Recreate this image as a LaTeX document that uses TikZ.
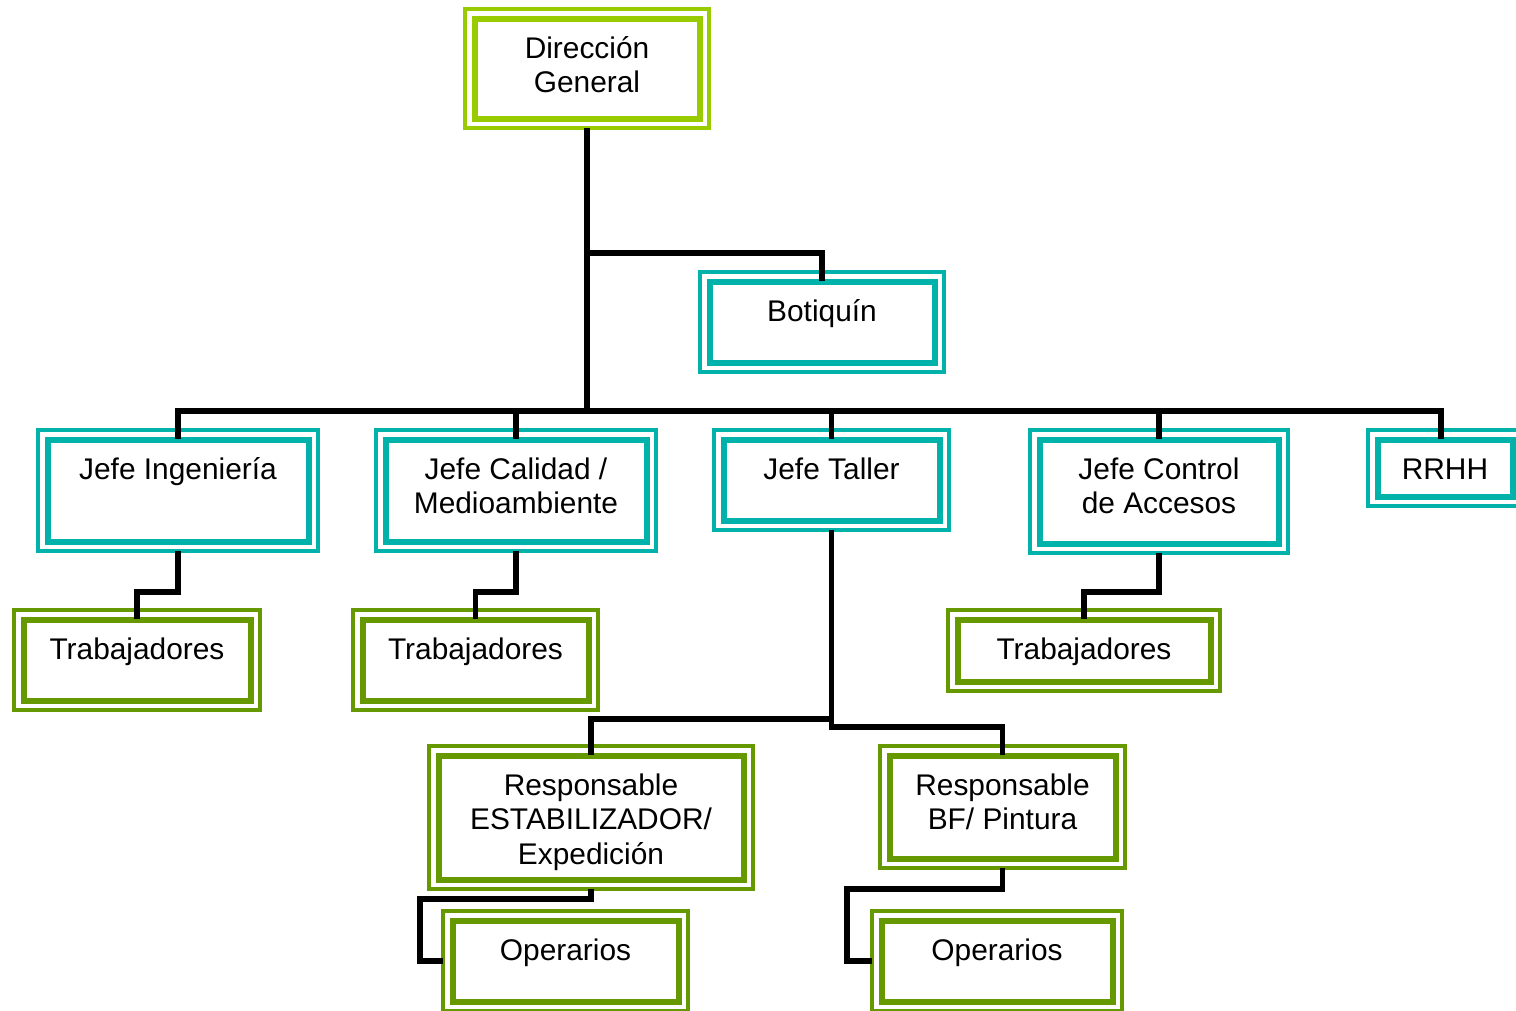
\documentclass[tikz,border=0pt]{standalone}
\usepackage{fontspec}
\setmainfont{Liberation Sans}
\usepackage{xcolor}
\usetikzlibrary{positioning,calc}

\newlength{\pxu}
\setlength{\pxu}{0.02cm}
\definecolor{limegrn}{HTML}{99CC00}
\definecolor{tealbox}{HTML}{00B2AA}
\definecolor{darkgrn}{HTML}{669900}
% box text: width, height, lines
\newcommand{\boxtxt}[3]{\parbox[c][#2\pxu][t]{#1\pxu}{\centering\rule{0pt}{49\pxu}#3}}

\tikzset{
  dblbox/.style={draw=#1, line width=4\pxu, inner sep=0pt, outer sep=0pt, anchor=north west,
    font=\fontsize{17pt}{19.7pt}\selectfont,
    path picture={\draw[#1, line width=6\pxu]
      ([shift={(9.5\pxu,-9.5\pxu)}]path picture bounding box.north west) rectangle
      ([shift={(-9.5\pxu,9.5\pxu)}]path picture bounding box.south east);}},
  topbox/.style={dblbox=limegrn},
  jefebox/.style={dblbox=tealbox},
  staffbox/.style={dblbox=darkgrn},
  conn/.style={draw=black, line width=5.5\pxu, line join=miter}
}

\begin{document}
\begin{tikzpicture}[x=0.02cm,y=-0.02cm]
\useasboundingbox (0,0) rectangle (1516,1011);
\clip (0,0) rectangle (1516,1011);

% Direction
\node[topbox] (dir) at (465,9) {\boxtxt{244}{119}{Dirección\\General}};
\node[jefebox] (bot) at (700,272) {\boxtxt{244}{100}{Botiquín}};

% Jefes
\node[jefebox] (ing) at (38,430) {\boxtxt{280}{121}{Jefe Ingeniería}};
\node[jefebox] (cal) at (376,430) {\boxtxt{280}{121}{Jefe Calidad /\\Medioambiente}};
\node[jefebox] (tal) at (714,430) {\boxtxt{235}{100}{Jefe Taller}};
\node[jefebox] (acc) at (1030,430) {\boxtxt{258}{123}{Jefe Control\\de Accesos}};
\node[jefebox] (rrhh) at (1368,430) {\boxtxt{154}{76}{RRHH}};

% Trabajadores
\node[staffbox] (trab1) at (14,610) {\boxtxt{246}{100}{Trabajadores}};
\node[staffbox] (trab2) at (353,610) {\boxtxt{245}{100}{Trabajadores}};
\node[staffbox] (trab3) at (948,610) {\boxtxt{272}{81}{Trabajadores}};

% Taller
\node[staffbox] (est) at (429,746) {\boxtxt{324}{143}{Responsable\\ESTABILIZADOR/\\Expedición}};
\node[staffbox] (bf) at (880,746) {\boxtxt{245}{122}{Responsable\\BF/ Pintura}};
\node[staffbox] (op1) at (443,911) {\boxtxt{245}{100}{Operarios}};
\node[staffbox] (op2) at (872,911) {\boxtxt{250}{100}{Operarios}};

% connectors
\coordinate (bus) at (587,411);
\draw[conn] (dir.south) -- (bus);
\draw[conn] (dir.south |- 0,253) -| ([yshift=-9\pxu]bot.north);
\draw[conn] (bus) -| ([yshift=-9\pxu]ing.north);
\draw[conn] (bus) -| ([yshift=-9\pxu]cal.north);
\draw[conn] (bus) -| ([yshift=-9\pxu]tal.north);
\draw[conn] (bus) -| ([yshift=-9\pxu]acc.north);
\draw[conn] (bus) -| ([xshift=-4\pxu,yshift=-9\pxu]rrhh.north);

\draw[conn] (ing.south) -- (ing.south |- 0,592) -| ([yshift=-9\pxu]trab1.north);
\draw[conn] (cal.south) -- (cal.south |- 0,592) -| ([yshift=-9\pxu]trab2.north);
\draw[conn] (acc.south) -- (acc.south |- 0,592) -| ([yshift=-9\pxu]trab3.north);

\draw[conn] (tal.south) -- (tal.south |- 0,727) -| ([yshift=-9\pxu]bf.north);
\draw[conn] (tal.south |- 0,719) -| ([yshift=-9\pxu]est.north);

\draw[conn] (est.south) -- (est.south |- 0,899) -| ([xshift=-23\pxu]op1.west) -- (op1.west);
\draw[conn] (bf.south) -- (bf.south |- 0,889) -| ([xshift=-25\pxu]op2.west) -- (op2.west);
\end{tikzpicture}
\end{document}
